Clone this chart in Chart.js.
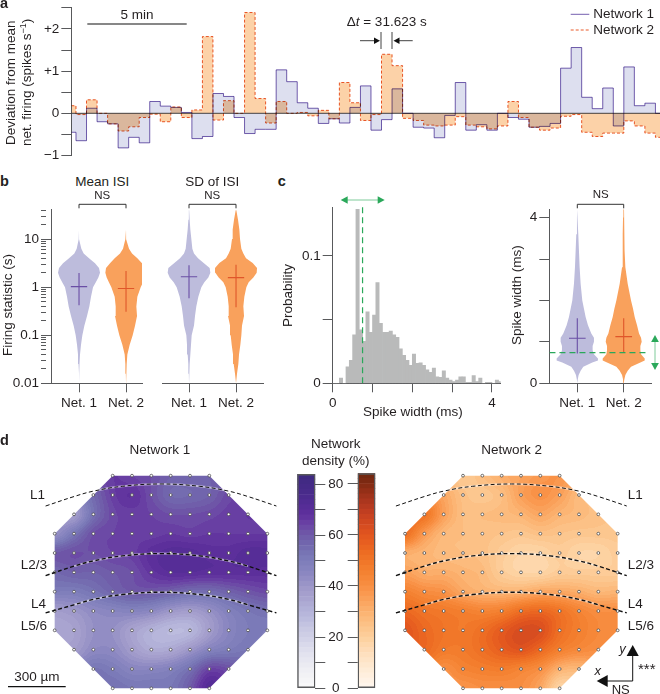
<!DOCTYPE html>
<html><head><meta charset="utf-8">
<script src="https://cdn.jsdelivr.net/npm/chart.js@4/dist/chart.umd.min.js"></script>
<style>
html,body{margin:0;padding:0;background:#fff;width:660px;height:694px;overflow:hidden}
#page{position:relative;width:660px;height:694px;overflow:hidden;font-family:"Liberation Sans",Arial,sans-serif;color:#231f20}
canvas{position:absolute}
.t{position:absolute;white-space:nowrap;line-height:1}
svg{position:absolute;left:0;top:0}
sup{font-size:9px;line-height:0}
</style></head><body><div id="page"></div>
<script>
// ---------- panel a: firing deviation per 31.623 s bin
const firstBinEnd = 14, binSeconds = 31.623, traceEnd = 1767;
const network1Deviation = [-0.45,-0.65,0.12,-0.2,-0.25,-0.82,-0.57,-0.7,0.28,0.17,0.14,0.02,-0.6,-0.55,0.47,0.4,-0.1,-0.48,-0.38,-0.38,1.03,0.75,0.25,0.12,-0.24,-0.13,
 -0.23,0.14,0.65,-0.4,-0.15,0.58,0,-0.33,-0.35,-0.58,-0.05,0.73,-0.4,-0.27,-0.4,0,-0.1,-0.14,-0.33,-0.31,-0.24,1.07,1.56,0.38,0.11,0.6,-0.3,1.1,0.18,0.24,0];
const network2Deviation = [0.18,-0.03,0.32,0,-0.25,-0.42,-0.32,-0.1,-0.02,-0.2,0.15,-0.1,0.08,1.82,-0.16,0.3,0,2.39,0.35,-0.23,0.28,0,0.02,-0.06,0.07,-0.13,
 0.73,0.25,-0.17,-0.03,1.4,1.13,-0.12,-0.17,-0.28,-0.3,-0.28,-0.08,-0.28,-0.32,-0.37,-0.3,0.28,-0.1,-0.33,-0.4,-0.35,-0.07,-0.03,-0.45,-0.55,-0.47,-0.47,-0.18,-0.3,-0.47,-0.57];
const deviationTicks = [-1,-0.5,0,0.5,1,1.5,2,2.5];
const deviationLabels = {'-1':'\u22121','0':'0','1':'+1','2':'+2'};

// ---------- panel b: violins on log10 levels
const isiLog = [-2,-1.8,-1.6,-1.4,-1.2,-1,-0.8,-0.6,-0.4,-0.2,0,0.1,0.2,0.3,0.4,0.5,0.6,0.7,0.8,1,1.2,1.4,1.6];
const meanNet1Width = [0,0,1.5,3,6,10,16,24,31,36,42,50,58,63,60,48,30,14,7,1,0,0,0];
const meanNet2Width = [0,0.5,2,4,11,20,27,33,31,34,44,51,58,62,60,48,34,18,9,2,0,0,0];
const sdNet1Width = [0,0.5,2,4,6,8,15,18,22,28,37,46,58,64,62,44,27,15,10,7,4,2,0.5];
const sdNet2Width = [0,3,7,9,13,16,18,24,22,25,31,38,52,62,63,50,30,22,16,12,10,6,1];
const meanIsiCross = {net1:[1.03,0.42,1.98], net2:[0.94,0.31,2.18]};
const sdIsiCross = {net1:[1.64,0.59,2.85], net2:[1.58,0.38,2.94]};
const isiTicksMajor = [0.01,0.1,1,10];
const isiTicksMinor = [0.02,0.03,0.04,0.05,0.06,0.07,0.08,0.09,0.2,0.3,0.4,0.5,0.6,0.7,0.8,0.9,2,3,4,5,6,7,8,9,20,30,40];
const netLabels = ['Net. 1','Net. 2'];

// ---------- panel c
const histBin = 1/12;
const spikeProbability = [0,0,0.004,0,0.013,0.018,0.038,0.1365,0.042,0.033,0.056,0.04,0.0535,0.079,0.047,0.04,0.04,0.041,0.038,0.036,0.027,0.022,0.018,0.014,0.023,0.0157,0.016,0.014,0.0105,0.0086,0.012,0.005,0.0047,0.0097,0.004,0.0026,0.0013,0.0026,0.005,0.005,0.0008,0.0008,0.006,0.0013,0.004,0,0.0008,0.0008,0,0.0026,0.0013,0.0026];
const spikeCutoff = 0.75;
const widthLevels = [0,0.1,0.2,0.3,0.4,0.5,0.55,0.6,0.7,0.8,0.9,1,1.1,1.2,1.4,1.6,1.8,2,2.4,2.8,3.2,3.6,4,4.2];
const widthNet1 = [0,1.5,4,10,18,45,62,62,50,46,46,50,50,42,32,25,20,15,10,7,5,3,1,0];
const widthNet2 = [0,2,5,12,22,50,63,63,52,50,50,54,52,46,40,33,28,22,12,5,3,3,2,1];
const spikeCross = {net1:[1.087,0.72,1.57], net2:[1.127,0.74,1.57]};

// ---------- panel d: density (%) at electrodes, rows top to bottom
const net1Density = [
[null,null,null,66,64,62,58,58,58,null,null,null],
[null,null,56,65,68,62,56,56,58,63,null,null],
[null,38,54,63,65,64,62,62,63,65,66,null],
[42,52,62,64,65,65,66,65,66,66,66,66],
[60,62,62,64,65,69,71,71,69,69,71,71],
[56,58,58,60,62,67,70,70,69,69,69,69],
[50,50,53,57,60,60,58,55,55,58,61,63],
[38,40,44,46,47,45,40,38,42,48,52,54],
[34,36,42,42,36,31,28,29,38,46,50,50],
[null,38,44,44,38,33,34,40,47,50,52,null],
[null,null,52,50,46,46,48,54,64,62,null,null],
[null,null,null,54,52,52,52,60,72,null,null,null]];
const net2Density = [
[null,null,null,22,26,31,34,37,38,null,null,null],
[null,null,33,25,23,26,35,39,35,27,null,null],
[null,50,35,26,26,27,29,33,29,27,25,null],
[52,37,28,26,25,24,23,25,24,23,23,23],
[31,29,27,26,25,21,18,18,21,18,18,21],
[35,31,31,29,27,21,18,18,21,21,21,21],
[45,41,39,33,30,29,30,33,33,31,28,29],
[54,50,48,46,44,46,52,54,50,44,40,40],
[60,54,50,48,52,58,63,62,52,46,42,40],
[null,54,48,48,52,57,60,54,46,42,40,null],
[null,null,40,44,46,47,44,40,30,28,null,null],
[null,null,null,38,40,40,40,33,18,null,null,null]];
const layerX = [-0.47,1,2,3.5,5.5,7.5,9,10,11.47];
const layerL1 = [1.57,1.08,0.8,0.55,0.43,0.55,0.8,1.08,1.57];
const layerL23 = [5.17,4.68,4.41,4.15,4.03,4.15,4.41,4.68,5.17];
const layerL4 = [7.1,6.68,6.4,6.15,6.03,6.15,6.4,6.68,7.1];
const octagon = [[3,0],[8,0],[11,3],[11,8],[8,11],[3,11],[0,8],[0,3]];
const barTicks = [0,10,20,30,40,50,60,70,80];
const barMax = 84, bandStep = 2;
const purpleStops = ['#f9f9fa','#f3f3f6','#ededf3','#e5e5f0','#dcdcec','#d0d0e6','#c6c6e2','#b9b9dc','#b0aed6','#a7a1ce','#9d97c8','#8e89c2','#8281bd','#7878b6','#7268ae','#6f5aa8','#6b44a5','#5f309d','#532c95','#4a2b8c','#432a85','#3d2a80'];
const orangeStops = ['#fff6ee','#fff0e2','#feead3','#fee2c3','#fed9b1','#fdcf9c','#fcc48a','#fcb878','#fbaa66','#fa9c54','#f88f42','#f58434','#f27a2a','#ee6f24','#e96120','#e1551f','#d44a20','#c54021','#b03820','#9a3119','#802a12','#6f2710'];

// ---------- styling
const AXIS='#58595b', TEXT='#231f20', LAV='#bdbcdc', ORG='#f9a15c', PURP='#6a4ea5', RED='#e0562a', GREEN='#2aa85a';
Chart.defaults.font.family='"Liberation Sans",Arial,sans-serif';
Chart.defaults.font.size=13.5;
Chart.defaults.color=TEXT;
const page=document.getElementById('page');

function hexRgb(h){return [1,3,5].map(i=>parseInt(h.substr(i,2),16));}
function bandColour(stops,v){
  const b=Math.min(Math.floor(v/bandStep),Math.floor(barMax/bandStep)-1);
  const p=(b*bandStep+bandStep/2)/4, i=Math.min(Math.floor(p),stops.length-2), f=p-i;
  const a=hexRgb(stops[i]),c=hexRgb(stops[i+1]);
  return a.map((x,k)=>Math.round(x+(c[k]-x)*f));
}

function panel(plot,m,config){
  const left=Math.floor(plot.l-m.l), top=Math.floor(plot.t-m.t);
  const width=Math.ceil(plot.r+m.r)-left, height=Math.ceil(plot.b+m.b)-top;
  const c=document.createElement('canvas');
  c.width=width;c.height=height;c.style.left=left+'px';c.style.top=top+'px';
  page.appendChild(c);
  const yAxisW=m.yw||0, xAxisH=m.xh||0;
  config.options=Object.assign({responsive:false,animation:false,devicePixelRatio:1,
    events:[],layout:{autoPadding:false,padding:{left:plot.l-left-yAxisW,top:plot.t-top,right:left+width-plot.r-(m.yrw||0),bottom:top+height-plot.b-xAxisH}}},config.options);
  return new Chart(c,config);
}
function fixTicks(list){return s=>{s.ticks=list.map(v=>typeof v==='object'?v:{value:v});};}
function yAxis(o){
  return Object.assign({position:'left',border:{display:true,color:AXIS,width:1},
    grid:{display:true,drawOnChartArea:false,drawTicks:true,tickLength:10,tickColor:AXIS,tickWidth:1},
    ticks:{autoSkip:false,padding:2,maxRotation:0,color:TEXT,font:{size:13.5}}},o);
}
function xAxis(o){
  return Object.assign({type:'linear',position:'bottom',border:{display:true,color:AXIS,width:1},
    grid:{display:true,drawOnChartArea:false,drawTicks:true,tickLength:9,tickColor:AXIS,tickWidth:1},
    ticks:{autoSkip:false,padding:3,maxRotation:0,minRotation:0,color:TEXT,font:{size:13.5}}},o);
}
const hidden=(o)=>Object.assign({type:'linear',display:false},o);

// ---------- panel a
function stepPoints(vals){
  const pts=vals.map((v,k)=>({x:k===0?0:firstBinEnd+binSeconds*(k-1),y:v}));
  pts.push({x:traceEnd,y:vals[vals.length-1]});
  return pts;
}
const multiplyPlugin={id:'multiplyFill',
  beforeDatasetsDraw(ch){ch.ctx.save();ch.ctx.globalCompositeOperation='multiply';},
  afterDatasetsDraw(ch){ch.ctx.restore();}};
panel({l:71.33,t:7.3,r:660,b:155.47},{l:71.33,t:12,r:0,b:12,yw:71.33},{
  type:'scatter',plugins:[multiplyPlugin],
  data:{datasets:[
    {data:[{x:0,y:0},{x:traceEnd,y:0}],showLine:true,borderColor:'#6d6e71',borderWidth:1.3,pointRadius:0},
    {data:stepPoints(network2Deviation),showLine:true,stepped:true,borderColor:'#ea5b2a',borderWidth:1,borderDash:[3,2],pointRadius:0,fill:'origin',backgroundColor:'#fcd2a8'},
    {data:stepPoints(network1Deviation),showLine:true,stepped:true,borderColor:'#7560b0',borderWidth:1,pointRadius:0,fill:'origin',backgroundColor:'#dddfef'}
  ]},
  options:{plugins:{legend:{display:false},tooltip:{enabled:false},filler:{drawTime:'beforeDatasetDraw'}},
    scales:{
      x:hidden({min:0,max:traceEnd}),
      y:yAxis({type:'linear',min:-1,max:2.514,afterBuildTicks:fixTicks(deviationTicks),afterFit:s=>{s.width=71.33;},
        ticks:{autoSkip:false,padding:2,color:TEXT,font:{size:13.5},callback:v=>deviationLabels[String(v)]||''}})
    }}
});

// ---------- violin helpers
const pxPerZoomWidth=1/141;
function violinShape(levels,widths,centre,scale){
  const pts=[];
  levels.forEach((l,i)=>pts.push({x:centre-widths[i]*scale,y:levels===isiLog?Math.pow(10,l):l}));
  for(let i=levels.length-1;i>=0;i--)pts.push({x:centre+widths[i]*scale,y:levels===isiLog?Math.pow(10,levels[i]):levels[i]});
  return pts;
}
function crossSets(centre,cross,colour,half){
  const [m,lo,hi]=cross;
  return [
   {data:[{x:centre-half,y:m},{x:centre+half,y:m}],showLine:true,borderColor:colour,borderWidth:1.1,pointRadius:0},
   {data:[{x:centre,y:lo},{x:centre,y:hi}],showLine:true,borderColor:colour,borderWidth:1.1,pointRadius:0}];
}
function violinSet(levels,widths,centre,colour){
  return {data:violinShape(levels,widths,centre,pxPerZoomWidth),showLine:true,fill:'shape',backgroundColor:colour,borderWidth:0,borderColor:'rgba(0,0,0,0)',pointRadius:0};
}
const isiTicks=isiTicksMajor.map(v=>({value:v,major:true})).concat(isiTicksMinor.map(v=>({value:v,major:false}))).sort((a,b)=>a.value-b.value);
const netTickLabel=v=>netLabels[v-1]||'';
const crossHalf=24.5/141;

function isiPanel(plot,m,xmin,xmax,w1,w2,cross,showY){
  panel(plot,m,{type:'scatter',
    data:{datasets:[...crossSets(1,cross.net1,PURP,crossHalf),...crossSets(2,cross.net2,RED,crossHalf),
      violinSet(isiLog,w1,1,LAV),violinSet(isiLog,w2,2,ORG)]},
    options:{plugins:{legend:{display:false},tooltip:{enabled:false}},
      scales:{
        x:xAxis({min:xmin,max:xmax,afterBuildTicks:fixTicks([1,2]),afterFit:s=>{s.height=m.xh;},
          ticks:{autoSkip:false,padding:3,maxRotation:0,minRotation:0,font:{size:13.5},color:TEXT,callback:netTickLabel}}),
        y:showY?yAxis({type:'logarithmic',min:0.01,max:42.2,afterBuildTicks:s=>{s.ticks=isiTicks.map(t=>Object.assign({},t));},afterFit:s=>{s.width=m.yw;},
          grid:{display:true,drawOnChartArea:false,tickLength:10,tickColor:AXIS,tickWidth:1,tickBorderDash:c=>c.tick&&c.tick.major?[]:[5,40]},
          ticks:{autoSkip:false,padding:2,color:TEXT,font:{size:13.5},callback:v=>isiTicksMajor.includes(v)?String(v):''}})
          :{type:'logarithmic',display:false,min:0.01,max:42.2}
      }}
  });
}
isiPanel({l:51,t:209,r:142,b:383.3},{l:51,t:10,r:8,b:28,yw:51,xh:28},0.404,2.34,meanNet1Width,meanNet2Width,meanIsiCross,true);
isiPanel({l:162,t:209,r:263,b:383.3},{l:8,t:10,r:8,b:28,xh:28},0.4255,2.574,sdNet1Width,sdNet2Width,sdIsiCross,false);

// ---------- panel c histogram
panel({l:332.7,t:207,r:500.7,b:383.3},{l:45,t:10,r:10,b:28,yw:45,xh:28},{
  type:'bar',
  data:{datasets:[
    {type:'line',data:[{x:spikeCutoff,y:0},{x:spikeCutoff,y:0.1382}],borderColor:GREEN,borderWidth:1.2,borderDash:[6,4],pointRadius:0},
    {data:spikeProbability.map((p,k)=>({x:(k+0.5)*histBin,y:p})),backgroundColor:'#b9baba',barPercentage:1,categoryPercentage:1,borderWidth:0}
  ]},
  options:{plugins:{legend:{display:false},tooltip:{enabled:false}},
    scales:{
      x:xAxis({min:0,max:4.22,offset:false,afterBuildTicks:fixTicks([0,1,2,3,4]),afterFit:s=>{s.height=28;},
        grid:{display:true,offset:false,drawOnChartArea:false,tickLength:9,tickColor:AXIS,tickWidth:1},
        ticks:{autoSkip:false,padding:3,maxRotation:0,minRotation:0,font:{size:13.5},color:TEXT,callback:v=>(v===0||v===4)?String(v):''}}),
      y:yAxis({type:'linear',min:0,max:0.1382,afterBuildTicks:fixTicks([0,0.05,0.1]),afterFit:s=>{s.width=45;},
        ticks:{autoSkip:false,padding:2,font:{size:13.5},color:TEXT,callback:v=>v===0?'0':(v===0.1?'0.1':'')}})
    }}
});

// ---------- panel c violin
const spikeUnit=46.4;
panel({l:549.3,t:209.3,r:651.7,b:383.3},{l:25,t:10,r:8,b:28,yw:25,xh:28},{
  type:'scatter',
  data:{datasets:[
    {data:[{x:0.4,y:0.74},{x:2.53,y:0.74}],showLine:true,borderColor:GREEN,borderWidth:1.1,borderDash:[6,4],pointRadius:0},
    ...crossSets(1,spikeCross.net1,PURP,25/139.2),...crossSets(2,spikeCross.net2,RED,25/139.2),
    {data:violinShape(widthLevels,widthNet1,1,1/139.2),showLine:true,fill:'shape',backgroundColor:LAV,borderWidth:0,pointRadius:0},
    {data:violinShape(widthLevels,widthNet2,2,1/139.2),showLine:true,fill:'shape',backgroundColor:ORG,borderWidth:0,pointRadius:0}
  ]},
  options:{plugins:{legend:{display:false},tooltip:{enabled:false}},
    scales:{
      x:xAxis({min:1-(577.3-549.3)/spikeUnit,max:1+(651.7-577.3)/spikeUnit,afterBuildTicks:fixTicks([1,2]),afterFit:s=>{s.height=28;},
        ticks:{autoSkip:false,padding:3,maxRotation:0,minRotation:0,font:{size:13.5},color:TEXT,callback:netTickLabel}}),
      y:yAxis({type:'linear',min:0,max:4.2,afterBuildTicks:fixTicks([0,1,2,3,4]),afterFit:s=>{s.width=25;},
        ticks:{autoSkip:false,padding:2,font:{size:13.5},color:TEXT,callback:v=>(v===0||v===4)?String(v):''}})
    }}
});

// ---------- panel d heat maps
function filledGrid(rows){
  const g=rows.map(r=>r.slice());
  for(let pass=0;pass<4;pass++){
    const src=g.map(r=>r.slice());
    for(let r=0;r<12;r++)for(let c=0;c<12;c++)if(src[r][c]===null){
      const n=[];[[r-1,c],[r+1,c],[r,c-1],[r,c+1]].forEach(([a,b])=>{if(src[a]&&src[a][b]!=null)n.push(src[a][b]);});
      if(n.length)g[r][c]=n.reduce((x,y)=>x+y,0)/n.length;
    }
  }
  return g;
}
function cr(p0,p1,p2,p3,t){return 0.5*((2*p1)+(-p0+p2)*t+(2*p0-5*p1+4*p2-p3)*t*t+(-p0+3*p1-3*p2+p3)*t*t*t);}
function sample(g,x,y){
  const xi=Math.max(0,Math.min(10,Math.floor(x))),yi=Math.max(0,Math.min(10,Math.floor(y)));
  const tx=x-xi,ty=y-yi,row=[];
  for(let j=-1;j<=2;j++){
    const r=g[Math.max(0,Math.min(11,yi+j))];
    row.push(cr(r[Math.max(0,xi-1)],r[xi],r[xi+1],r[Math.min(11,xi+2)],tx));
  }
  return cr(row[0],row[1],row[2],row[3],ty);
}
const heatPlugin={id:'densityHeat',beforeDatasetsDraw(ch,a,o){
  const X=ch.scales.x,Y=ch.scales.y,ctx=ch.ctx,g=filledGrid(o.rows);
  const x0=Math.floor(X.getPixelForValue(0)),x1=Math.ceil(X.getPixelForValue(11));
  const y0=Math.floor(Y.getPixelForValue(0)),y1=Math.ceil(Y.getPixelForValue(11));
  const off=document.createElement('canvas');off.width=x1-x0+1;off.height=y1-y0+1;
  const oc=off.getContext('2d'),img=oc.createImageData(off.width,off.height);
  for(let py=y0;py<=y1;py++)for(let px=x0;px<=x1;px++){
    const vx=Math.max(0,Math.min(11,X.getValueForPixel(px+0.5))),vy=Math.max(0,Math.min(11,Y.getValueForPixel(py+0.5)));
    const v=Math.max(0,Math.min(barMax-0.01,sample(g,vx,vy)));
    const col=bandColour(o.stops,v),i=4*((py-y0)*off.width+(px-x0));
    img.data[i]=col[0];img.data[i+1]=col[1];img.data[i+2]=col[2];img.data[i+3]=255;
  }
  oc.putImageData(img,0,0);
  ctx.save();ctx.beginPath();
  octagon.forEach(([c,r],i)=>{const p=[X.getPixelForValue(c),Y.getPixelForValue(r)];i?ctx.lineTo(p[0],p[1]):ctx.moveTo(p[0],p[1]);});
  ctx.closePath();ctx.clip();ctx.drawImage(off,x0,y0);ctx.restore();
}};
function layerSets(ys,w){
  const halo=layerX.map((x,i)=>({x,y:ys[i]})).slice(1,8);
  return [
   {data:layerX.map((x,i)=>({x,y:ys[i]})),showLine:true,tension:0.4,borderColor:'#111',borderWidth:w,borderDash:[4,2.5],pointRadius:0},
   {data:halo,showLine:true,tension:0.4,borderColor:'rgba(255,255,255,0.55)',borderWidth:2,pointRadius:0}];
}
function heatPanel(c0,rows,stops){
  const u=19.333, plot={l:c0-u,t:475.67-u,r:c0+12*u,b:475.67+11.3*u};
  const pts=[];rows.forEach((r,ri)=>r.forEach((v,ci)=>{if(v!==null)pts.push({x:ci,y:ri});}));
  panel(plot,{l:0,t:0,r:0,b:0},{type:'scatter',plugins:[heatPlugin],
    data:{datasets:[...layerSets(layerL1,1),...layerSets(layerL23,1.4),...layerSets(layerL4,1.4),
      {data:pts,pointRadius:1.4,pointBackgroundColor:'#fff',pointBorderColor:'#4a4a4a',pointBorderWidth:0.8}]},
    options:{plugins:{legend:{display:false},tooltip:{enabled:false},densityHeat:{rows,stops}},
      scales:{x:hidden({min:-1,max:12}),y:hidden({min:-1,max:11.3,reverse:true})}}
  });
}
heatPanel(54.67,net1Density,purpleStops);
heatPanel(405,net2Density,orangeStops);

// ---------- colour bars
function barSets(stops){
  const sets=[{data:[[0,barMax]],backgroundColor:'rgba(0,0,0,0)',borderColor:AXIS,borderWidth:1,borderSkipped:false,barPercentage:1,categoryPercentage:1,grouped:false}];
  for(let v=0;v<barMax;v+=bandStep){
    const c=bandColour(stops,v+bandStep/2);
    sets.push({data:[[v,v+bandStep]],backgroundColor:`rgb(${c[0]},${c[1]},${c[2]})`,borderWidth:0,barPercentage:1,categoryPercentage:1,grouped:false});
  }
  return sets;
}
panel({l:297.3,t:473.3,r:315.3,b:688.3},{l:2,t:10,r:33,b:12,yrw:33},{type:'bar',
  data:{labels:[''],datasets:barSets(purpleStops)},
  options:{plugins:{legend:{display:false},tooltip:{enabled:false}},
    scales:{x:{display:false,stacked:false},
      y:yAxis({position:'right',type:'linear',min:0,max:barMax,afterBuildTicks:fixTicks(barTicks),afterFit:s=>{s.width=33;},
        border:{display:false},
        ticks:{autoSkip:false,padding:3,crossAlign:'center',font:{size:13.5},color:TEXT,callback:v=>v%20===0?String(v):''}})
    }}
});
panel({l:357.7,t:473.3,r:375.3,b:688.3},{l:10,t:10,r:2,b:12,yw:10},{type:'bar',
  data:{labels:[''],datasets:barSets(orangeStops)},
  options:{plugins:{legend:{display:false},tooltip:{enabled:false}},
    scales:{x:{display:false},
      y:yAxis({type:'linear',min:0,max:barMax,afterBuildTicks:fixTicks(barTicks),afterFit:s=>{s.width=10;},
        border:{display:false},
        ticks:{display:false}})
    }}
});

// ---------- text
function label(html,x,y,o={}){
  const d=document.createElement('div');d.className='t';d.innerHTML=html;
  d.style.fontSize=(o.size||13.5)+'px';
  if(o.bold)d.style.fontWeight='bold';
  if(o.italic)d.style.fontStyle='italic';
  page.appendChild(d);
  const w=d.offsetWidth,h=d.offsetHeight;
  if(o.rot){
    d.style.transformOrigin='0 0';
    d.style.left=Math.round(x-h/2)+'px';d.style.top=Math.round(y+w/2)+'px';
    d.style.transform='rotate(-90deg)';
  }else{
    const lx=o.align==='left'?x:(o.align==='right'?x-w:x-w/2);
    d.style.left=lx+'px';d.style.top=Math.round(y-h/2)+'px';
  }
}
[['a',0,3],['b',0,181],['c',277.7,181],['d',0,440.7]].forEach(([s,x,y])=>label(s,x,y,{bold:true,size:14.5,align:'left'}));
label('Deviation from mean',10.5,82.5,{rot:true});
label('net. firing (spikes s<sup>\u22121</sup>)',27,82.5,{rot:true});
label('5 min',137,15);
label('\u0394<i>t</i> = 31.623 s',386.7,22);
label('Network 1',593.3,14.3,{align:'left'});
label('Network 2',593.3,30,{align:'left'});
label('Firing statistic (s)',7.5,305,{rot:true});
label('Mean ISI',102.3,182.3);label('NS',102.3,196,{size:11.5});
label('SD of ISI',212.3,182.3);label('NS',212.3,196,{size:11.5});
label('Probability',288,295,{rot:true});
label('Spike width (ms)',413,412);
label('Spike width (ms)',517,295,{rot:true});
label('NS',600.7,195,{size:11.5});
label('Network 1',160,450);label('Network 2',511.7,450);
label('Network',336,444);label('density (%)',336,460.7);
[['L1',45,495],['L2/3',46.7,565],['L4',46,603.7],['L5/6',46.7,625.7]].forEach(([s,x,y])=>label(s,x,y,{align:'right'}));
[['L1',495],['L2/3',565],['L4',603.7],['L5/6',625.7]].forEach(([s,y])=>label(s,627.7,y,{align:'left'}));
label('300 \u00b5m',36.7,677);
label('x',598,670,{size:13,italic:true}); label('y',622.7,648,{size:13,italic:true});
label('***',647,668,{size:15});
label('NS',620.7,689,{size:13});

// ---------- annotation strokes
function tri(x,y,dir,size,fill){
  const s=size,w=size*0.55;
  const pts={l:[[x,y],[x+s,y-w],[x+s,y+w]],r:[[x,y],[x-s,y-w],[x-s,y+w]],u:[[x,y],[x-w,y+s],[x+w,y+s]],d:[[x,y],[x-w,y-s],[x+w,y-s]]}[dir];
  return `<polygon points="${pts.map(p=>p.join(',')).join(' ')}" fill="${fill}"/>`;
}
function ln(x1,y1,x2,y2,c,w){return `<line x1="${x1}" y1="${y1}" x2="${x2}" y2="${y2}" stroke="${c}" stroke-width="${w||1}"/>`;}
function bracket(a,b,y,d){return `<path d="M${a} ${y+d}V${y}H${b}V${y+d}" fill="none" stroke="#333" stroke-width="1"/>`;}
let svg='';
svg+=ln(87.3,24,186.7,24,'#111',1.2);
svg+=ln(381,32,381,49,'#111',0.8)+ln(392,32,392,49,'#111',0.8);
svg+=ln(360,40.7,376,40.7,'#111',0.8)+tri(380,40.7,'r',6,'#111');
svg+=ln(397,40.7,412.7,40.7,'#111',0.8)+tri(393.5,40.7,'l',6,'#111');
svg+=ln(570.7,14.3,589.3,14.3,'#7560b0',1)+`<line x1="570.7" y1="30" x2="589.3" y2="30" stroke="#ea5b2a" stroke-width="1" stroke-dasharray="3 2"/>`;
svg+=bracket(79,126,204.3,4)+bracket(189,236,204.3,4)+bracket(577.3,623.7,204.3,4);
svg+=ln(345,200,380,200,'#7fcb9a',1)+tri(340.7,200,'l',7,GREEN)+tri(384.7,200,'r',7,GREEN);
svg+=ln(655,340,655,365,'#7fcb9a',1)+tri(655,335,'u',7,GREEN)+tri(655,370,'d',7,GREEN);
svg+=ln(8,686.7,65.7,686.7,'#111',1.2);
svg+=ln(632.7,681,632.7,655,'#111',1)+ln(632.7,681,606,681,'#111',1)+tri(632.7,645,'u',11,'#111')+tri(596.7,681,'l',11,'#111');
const s=document.createElementNS('http://www.w3.org/2000/svg','svg');
s.setAttribute('width','660');s.setAttribute('height','694');s.innerHTML=svg;page.appendChild(s);
</script></body></html>
